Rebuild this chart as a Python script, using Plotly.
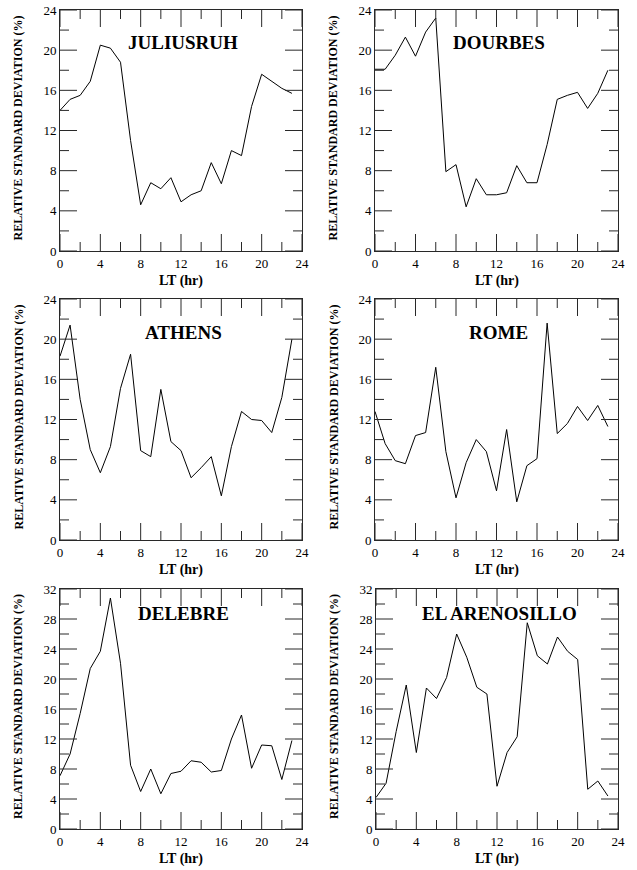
import plotly.graph_objects as go

W, H = 637, 870

hours = list(range(24))

stations = ["JULIUSRUH", "DOURBES", "ATHENS", "ROME", "DELEBRE", "EL ARENOSILLO"]

juliusruh = [14.0, 15.1, 15.5, 16.9, 20.5, 20.2, 18.8, 11.0, 4.6, 6.8, 6.2, 7.3,
             4.9, 5.6, 6.0, 8.8, 6.7, 10.0, 9.5, 14.4, 17.6, 16.9, 16.2, 15.7]
dourbes = [18.1, 18.1, 19.5, 21.3, 19.4, 21.8, 23.2, 7.9, 8.6, 4.4, 7.2, 5.6,
           5.6, 5.8, 8.5, 6.8, 6.8, 10.6, 15.1, 15.5, 15.8, 14.2, 15.7, 18.0]
athens = [18.3, 21.4, 14.0, 9.0, 6.7, 9.3, 15.1, 18.5, 8.9, 8.3, 15.0, 9.8,
          8.9, 6.2, 7.2, 8.3, 4.4, 9.3, 12.8, 12.0, 11.9, 10.7, 14.2, 20.0]
rome = [12.8, 9.6, 7.9, 7.6, 10.4, 10.7, 17.2, 8.8, 4.2, 7.7, 10.0, 8.8,
        4.9, 11.0, 3.8, 7.4, 8.1, 21.6, 10.6, 11.6, 13.3, 11.9, 13.4, 11.3]
delebre = [7.1, 10.0, 15.4, 21.4, 23.7, 30.8, 22.1, 8.5, 5.0, 8.0, 4.7, 7.4,
           7.7, 9.1, 8.9, 7.6, 7.8, 12.0, 15.2, 8.1, 11.2, 11.1, 6.6, 11.8]
el_arenosillo = [4.2, 6.1, 13.0, 19.2, 10.2, 18.8, 17.4, 20.2, 26.0, 22.9, 18.9, 18.0,
                 5.7, 10.2, 12.3, 27.5, 23.1, 22.0, 25.6, 23.7, 22.6, 5.3, 6.4, 4.4]

series = [juliusruh, dourbes, athens, rome, delebre, el_arenosillo]
y_max = [24, 24, 24, 24, 32, 32]
label_y = [20.75, 20.75, 20.7, 20.7, 28.7, 28.7]

x_major = [0, 4, 8, 12, 16, 20, 24]
x_minor = [2, 6, 10, 14, 18, 22]

x_title = "LT (hr)"
y_title = "RELATIVE STANDARD DEVIATION (%)"

# panel pixel boxes (left, right, top, bottom)
boxes = [(60, 302, 10, 251), (375, 618, 10, 251),
         (60, 302, 299, 540), (375, 618, 299, 540),
         (60, 302, 589, 829), (376, 618, 589, 829)]

FONT = "Liberation Serif, Times New Roman, serif"
AX = "rgb(40,40,40)"
TK = "rgb(40,40,40)"
MAJ, MIN = 17, 9

fig = go.Figure()
annotations = []
shapes = []
for i, (name, vals, ym, ly, box) in enumerate(zip(stations, series, y_max, label_y, boxes)):
    k = "" if i == 0 else str(i + 1)
    l, r, t, b = box
    pw, ph = r - l, b - t
    xd = [l / W, r / W]
    yd = [(H - b) / H, (H - t) / H]
    fig.add_trace(go.Scatter(x=hours, y=vals, mode="lines",
                             line=dict(color="black", width=1),
                             xaxis="x" + k, yaxis="y" + k, showlegend=False,
                             hoverinfo="skip"))
    common = dict(showline=True, linecolor=AX, linewidth=1, mirror=True,
                  ticks="", showgrid=False, zeroline=False,
                  tickfont=dict(family=FONT, size=13, color="black"),
                  tickprefix="<b>", ticksuffix="</b>")
    y_major = list(range(0, ym + 1, 4))
    y_minor = list(range(2, ym, 4))
    fig.layout["xaxis" + k] = dict(domain=xd, range=[0, 24], tickmode="array",
                                   tickvals=x_major, anchor="y" + k, **common)
    fig.layout["yaxis" + k] = dict(domain=yd, range=[0, ym], tickmode="array",
                                   tickvals=y_major, anchor="x" + k, **common)
    # inside tick marks on all four sides
    for xs, ln in ((x_major, MAJ), (x_minor, MIN)):
        f = ln / ph
        for xv in xs:
            for y0, y1 in ((0, f), (1, 1 - f)):
                shapes.append(dict(type="line", xref="x" + k, yref="y" + k + " domain",
                                   x0=xv, x1=xv, y0=y0, y1=y1,
                                   line=dict(color=TK, width=1)))
    for ys, ln in ((y_major, MAJ), (y_minor, MIN)):
        f = ln / pw
        for yv in ys:
            for x0, x1 in ((0, f), (1, 1 - f)):
                shapes.append(dict(type="line", xref="x" + k + " domain", yref="y" + k,
                                   x0=x0, x1=x1, y0=yv, y1=yv,
                                   line=dict(color=TK, width=1)))
    annotations.append(dict(text="<b>" + name + "</b>", xref="x" + k, yref="y" + k,
                            x=12.2, y=ly, showarrow=False,
                            font=dict(family=FONT, size=19, color="black")))
    annotations.append(dict(text="<b>" + x_title + "</b>", xref="paper", yref="paper",
                            x=(l + r) / 2 / W, y=(H - (b + 30)) / H,
                            showarrow=False, xanchor="center", yanchor="middle",
                            font=dict(family=FONT, size=14, color="black")))
    annotations.append(dict(text="<b>" + y_title + "</b>", xref="paper", yref="paper",
                            x=(l - 42) / W, y=(H - (t + b) / 2 + 2) / H,
                            showarrow=False, textangle=-90,
                            xanchor="center", yanchor="middle",
                            font=dict(family=FONT, size=12, color="black")))

fig.update_layout(template="none", width=W, height=H,
                  margin=dict(l=0, r=0, t=0, b=0),
                  plot_bgcolor="white", paper_bgcolor="white",
                  annotations=annotations, shapes=shapes)

fig.write_html("out.html")
